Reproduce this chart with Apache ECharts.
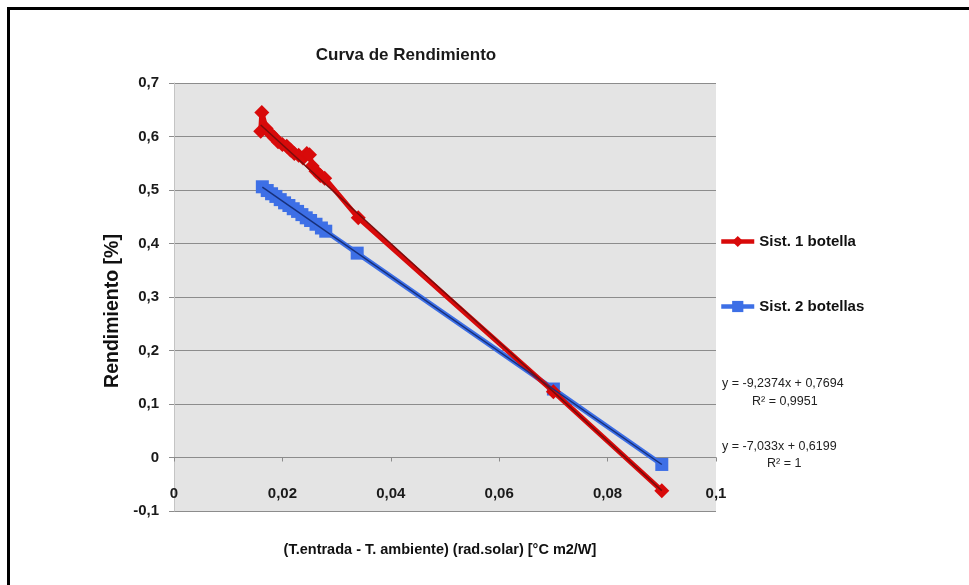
<!DOCTYPE html>
<html>
<head>
<meta charset="utf-8">
<script src="https://cdn.jsdelivr.net/npm/echarts@6/dist/echarts.min.js"></script>
<style>
html,body{margin:0;padding:0;background:#fff;}
#c{width:969px;height:585px;}
</style>
</head>
<body>
<div id="c"></div>
<script>
// ---- data ----
const chartTitle = 'Curva de Rendimiento';
const xName = '(T.entrada - T. ambiente) (rad.solar) [°C m2/W]';
const yName = 'Rendimiento [%]';
const seriesNames = ['Sist. 1 botella', 'Sist. 2 botellas'];

const redX = [0.0160, 0.0162, 0.0170, 0.0178, 0.0185, 0.0192, 0.0200, 0.0208, 0.0215, 0.0222, 0.0230, 0.0238, 0.0245, 0.0250, 0.0255, 0.0262, 0.0270, 0.0278, 0.0340, 0.0700, 0.0900];
const redY = [0.610, 0.645, 0.615, 0.605, 0.598, 0.590, 0.585, 0.582, 0.575, 0.568, 0.565, 0.560, 0.568, 0.566, 0.545, 0.535, 0.527, 0.522, 0.448, 0.123, -0.062];

const blueX = [0.0163, 0.0172, 0.0180, 0.0188, 0.0196, 0.0204, 0.0212, 0.0220, 0.0228, 0.0236, 0.0244, 0.0252, 0.0262, 0.0272, 0.0280, 0.0338, 0.0700, 0.0900];
const blueY = [0.506, 0.499, 0.493, 0.488, 0.482, 0.476, 0.471, 0.465, 0.460, 0.454, 0.448, 0.443, 0.436, 0.429, 0.423, 0.382, 0.128, -0.013];

// trendline coefficients as displayed on the chart
const redTrend = {slope: -9.2374, intercept: 0.7694};
const blueTrend = {slope: -7.033, intercept: 0.6199};
const trendLabels = ['y = -9,2374x + 0,7694', 'R² = 0,9951', 'y = -7,033x + 0,6199', 'R² = 1'];

// ---- build chart ----
const FONT = "'Liberation Sans', Arial, sans-serif";
const zip = (xs, ys) => xs.map((x, i) => [x, ys[i]]);
const trendPts = (xs, t) => {
  const a = Math.min(...xs), b = Math.max(...xs);
  return [[a, t.slope * a + t.intercept], [b, t.slope * b + t.intercept]];
};
const fmt = v => String(+(+v).toFixed(3)).replace('.', ',');

const RED = '#d80a0a', BLUE = '#3d6fe6';
const legendBase = {
  left: 719, itemWidth: 33, itemHeight: 14, padding: 0,
  lineStyle: {width: 4.5},
  textStyle: {fontFamily: FONT, fontSize: 15, fontWeight: 'bold', color: '#111'}
};

const chart = echarts.init(document.getElementById('c'), null, {renderer: 'canvas'});
chart.setOption({
  animation: false,
  backgroundColor: '#ffffff',
  title: {
    text: chartTitle, left: 401, top: 42, textAlign: 'center',
    textStyle: {fontFamily: FONT, fontSize: 17, fontWeight: 'bold', color: '#1a1a1a'}
  },
  grid: {
    left: 174, right: 253, top: 83, bottom: 74,
    outerBoundsMode: 'none', containLabel: false,
    show: true, backgroundColor: '#e4e4e4', borderWidth: 0
  },
  legend: [
    Object.assign({data: [seriesNames[0]], top: 234}, legendBase),
    Object.assign({data: [seriesNames[1]], top: 299}, legendBase)
  ],
  xAxis: {
    type: 'value', min: 0, max: 0.1, interval: 0.02,
    axisLine: {show: true, onZero: true, lineStyle: {color: '#8c8c8c', width: 1}},
    axisTick: {show: true, length: 4, inside: false, lineStyle: {color: '#8c8c8c'}},
    axisLabel: {margin: -25, formatter: fmt, fontFamily: FONT, fontSize: 15, fontWeight: 'bold', color: '#1a1a1a'},
    splitLine: {show: false}
  },
  yAxis: {
    type: 'value', min: -0.1, max: 0.7, interval: 0.1,
    axisLine: {show: true, lineStyle: {color: '#c4c4c4', width: 1}},
    axisTick: {show: true, length: 5, lineStyle: {color: '#8c8c8c'}},
    axisLabel: {margin: 15, formatter: fmt, fontFamily: FONT, fontSize: 15, fontWeight: 'bold', color: '#1a1a1a'},
    splitLine: {show: true, lineStyle: {color: '#8c8c8c', width: 1}}
  },
  series: [
    {
      name: seriesNames[0], type: 'line', data: zip(redX, redY),
      symbol: 'diamond', symbolSize: 15,
      lineStyle: {color: RED, width: 5}, itemStyle: {color: RED}, z: 3
    },
    {
      name: seriesNames[1], type: 'line', data: zip(blueX, blueY),
      symbol: 'rect', symbolSize: 13,
      lineStyle: {color: BLUE, width: 5}, itemStyle: {color: BLUE}, z: 2
    },
    {
      name: 'trend1', type: 'line', data: trendPts(redX, redTrend), symbol: 'none', silent: true,
      lineStyle: {color: '#7a0c0c', width: 1.5}, z: 5
    },
    {
      name: 'trend2', type: 'line', data: trendPts(blueX, blueTrend), symbol: 'none', silent: true,
      lineStyle: {color: '#17307a', width: 1.5}, z: 4
    }
  ],
  graphic: [
    {type: 'rect', left: 6, top: 6, silent: true, shape: {x: 0, y: 0, width: 1200, height: 1200},
      style: {fill: 'none', stroke: '#000', lineWidth: 3}},
    {type: 'text', x: 440, y: 550, silent: true,
      style: {text: xName, font: 'bold 14.5px ' + FONT, fill: '#111', align: 'center', verticalAlign: 'middle'}},
    {type: 'text', x: 113, y: 311, rotation: Math.PI / 2, silent: true,
      style: {text: yName, font: 'bold 19.5px ' + FONT, fill: '#111', align: 'center', verticalAlign: 'middle'}},
    {type: 'text', left: 722, top: 377, style: {text: trendLabels[0], font: '12.5px ' + FONT, fill: '#222'}},
    {type: 'text', left: 752, top: 395, style: {text: trendLabels[1], font: '12.5px ' + FONT, fill: '#222'}},
    {type: 'text', left: 722, top: 440, style: {text: trendLabels[2], font: '12.5px ' + FONT, fill: '#222'}},
    {type: 'text', left: 767, top: 457, style: {text: trendLabels[3], font: '12.5px ' + FONT, fill: '#222'}}
  ]
});
</script>
</body>
</html>
